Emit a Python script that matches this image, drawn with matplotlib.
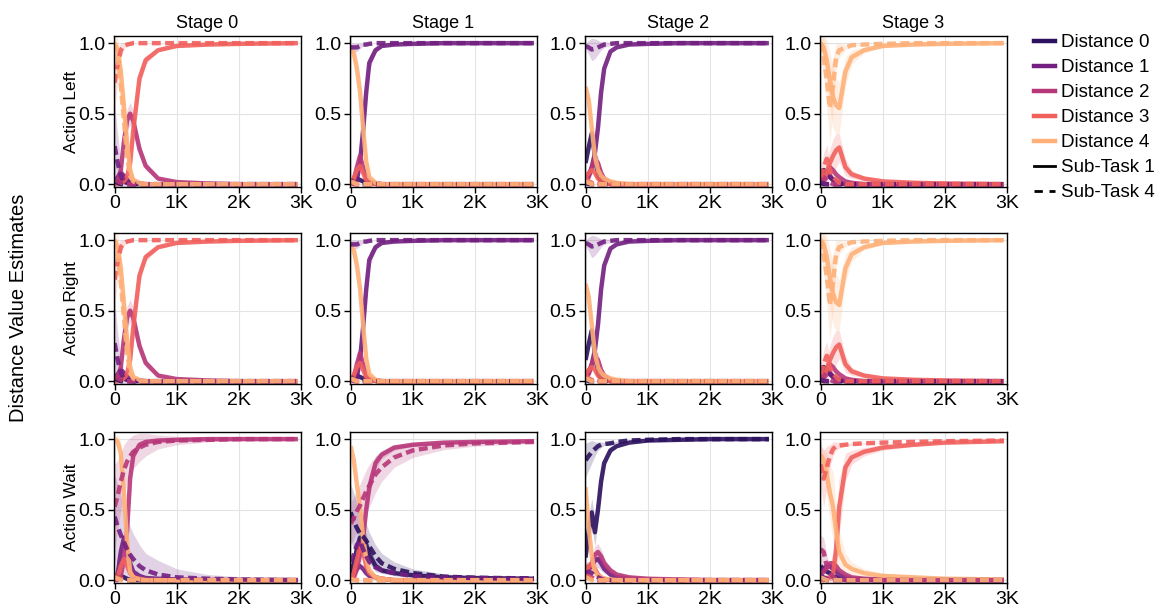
import numpy as np
import matplotlib.pyplot as plt
import seaborn as sns

plt.rcParams['font.family'] = ['Liberation Sans', 'DejaVu Sans']

# training steps where the estimates were sampled
steps = [0, 50, 100, 150, 200, 250, 300, 400, 500, 700, 1000, 1500, 2000, 2950]

stages = ['Stage 0', 'Stage 1', 'Stage 2', 'Stage 3']
actions = ['Action Left', 'Action Right', 'Action Wait']
distance_names = ['Distance 0', 'Distance 1', 'Distance 2', 'Distance 3', 'Distance 4']
subtask_names = ['Sub-Task 1', 'Sub-Task 4']

# mean estimates, keyed by (distance, sub-task)
left_stage0 = {
    (0, 1): [0.01, 0.02, 0.03, 0.02, 0.01, 0.01, 0.0, 0.0, 0.0, 0.0, 0.0, 0.0, 0.0, 0.0],
    (1, 1): [0.02, 0.05, 0.08, 0.06, 0.03, 0.02, 0.01, 0.005, 0.0, 0.0, 0.0, 0.0, 0.0, 0.0],
    (2, 1): [0.0, 0.02, 0.1, 0.3, 0.45, 0.5, 0.45, 0.25, 0.13, 0.04, 0.015, 0.005, 0.0, 0.0],
    (3, 1): [0.0, 0.0, 0.01, 0.02, 0.05, 0.15, 0.38, 0.75, 0.88, 0.95, 0.98, 0.99, 0.995, 1.0],
    (4, 1): [1.0, 0.95, 0.8, 0.55, 0.3, 0.1, 0.03, 0.01, 0.0, 0.0, 0.0, 0.0, 0.0, 0.0],
    (0, 4): [0.02, 0.01, 0.0, 0.0, 0.0, 0.0, 0.0, 0.0, 0.0, 0.0, 0.0, 0.0, 0.0, 0.0],
    (1, 4): [0.27, 0.15, 0.06, 0.02, 0.01, 0.0, 0.0, 0.0, 0.0, 0.0, 0.0, 0.0, 0.0, 0.0],
    (2, 4): [0.03, 0.02, 0.01, 0.0, 0.0, 0.0, 0.0, 0.0, 0.0, 0.0, 0.0, 0.0, 0.0, 0.0],
    (3, 4): [0.72, 0.85, 0.95, 0.98, 0.99, 0.995, 1.0, 1.0, 1.0, 1.0, 1.0, 1.0, 1.0, 1.0],
    (4, 4): [1.0, 0.9, 0.7, 0.45, 0.2, 0.06, 0.02, 0.0, 0.0, 0.0, 0.0, 0.0, 0.0, 0.0],
}
left_stage1 = {
    (0, 1): [0.02, 0.03, 0.04, 0.03, 0.02, 0.015, 0.01, 0.005, 0.0, 0.0, 0.0, 0.0, 0.0, 0.0],
    (1, 1): [0.02, 0.02, 0.03, 0.15, 0.38, 0.65, 0.86, 0.95, 0.98, 0.99, 0.995, 1.0, 1.0, 1.0],
    (2, 1): [0.0, 0.03, 0.12, 0.2, 0.12, 0.05, 0.02, 0.005, 0.0, 0.0, 0.0, 0.0, 0.0, 0.0],
    (3, 1): [0.01, 0.04, 0.1, 0.13, 0.08, 0.03, 0.01, 0.0, 0.0, 0.0, 0.0, 0.0, 0.0, 0.0],
    (4, 1): [0.95, 0.93, 0.82, 0.66, 0.4, 0.16, 0.05, 0.01, 0.0, 0.0, 0.0, 0.0, 0.0, 0.0],
    (0, 4): [0.03, 0.01, 0.0, 0.0, 0.0, 0.0, 0.0, 0.0, 0.0, 0.0, 0.0, 0.0, 0.0, 0.0],
    (1, 4): [0.97, 0.97, 0.97, 0.98, 0.99, 0.99, 0.995, 1.0, 1.0, 1.0, 1.0, 1.0, 1.0, 1.0],
    (2, 4): [0.01, 0.0, 0.0, 0.0, 0.0, 0.0, 0.0, 0.0, 0.0, 0.0, 0.0, 0.0, 0.0, 0.0],
    (3, 4): [0.02, 0.01, 0.0, 0.0, 0.0, 0.0, 0.0, 0.0, 0.0, 0.0, 0.0, 0.0, 0.0, 0.0],
    (4, 4): [0.02, 0.01, 0.0, 0.0, 0.0, 0.0, 0.0, 0.0, 0.0, 0.0, 0.0, 0.0, 0.0, 0.0],
}
left_stage2 = {
    (0, 1): [0.15, 0.26, 0.36, 0.2, 0.06, 0.02, 0.01, 0.0, 0.0, 0.0, 0.0, 0.0, 0.0, 0.0],
    (1, 1): [0.04, 0.06, 0.12, 0.22, 0.4, 0.65, 0.82, 0.94, 0.97, 0.99, 0.995, 1.0, 1.0, 1.0],
    (2, 1): [0.03, 0.05, 0.12, 0.18, 0.15, 0.08, 0.04, 0.01, 0.0, 0.0, 0.0, 0.0, 0.0, 0.0],
    (3, 1): [0.05, 0.08, 0.1, 0.08, 0.04, 0.02, 0.01, 0.0, 0.0, 0.0, 0.0, 0.0, 0.0, 0.0],
    (4, 1): [0.69, 0.6, 0.4, 0.2, 0.1, 0.06, 0.04, 0.02, 0.01, 0.0, 0.0, 0.0, 0.0, 0.0],
    (0, 4): [0.01, 0.0, 0.0, 0.0, 0.0, 0.0, 0.0, 0.0, 0.0, 0.0, 0.0, 0.0, 0.0, 0.0],
    (1, 4): [0.98, 0.97, 0.955, 0.96, 0.97, 0.98, 0.99, 0.995, 1.0, 1.0, 1.0, 1.0, 1.0, 1.0],
    (2, 4): [0.02, 0.01, 0.0, 0.0, 0.0, 0.0, 0.0, 0.0, 0.0, 0.0, 0.0, 0.0, 0.0, 0.0],
    (3, 4): [0.04, 0.02, 0.01, 0.0, 0.0, 0.0, 0.0, 0.0, 0.0, 0.0, 0.0, 0.0, 0.0, 0.0],
    (4, 4): [0.02, 0.01, 0.0, 0.0, 0.0, 0.0, 0.0, 0.0, 0.0, 0.0, 0.0, 0.0, 0.0, 0.0],
}
left_stage3 = {
    (0, 1): [0.08, 0.1, 0.08, 0.05, 0.03, 0.02, 0.01, 0.0, 0.0, 0.0, 0.0, 0.0, 0.0, 0.0],
    (1, 1): [0.03, 0.06, 0.08, 0.06, 0.03, 0.02, 0.01, 0.0, 0.0, 0.0, 0.0, 0.0, 0.0, 0.0],
    (2, 1): [0.02, 0.05, 0.09, 0.12, 0.1, 0.07, 0.05, 0.02, 0.01, 0.0, 0.0, 0.0, 0.0, 0.0],
    (3, 1): [0.0, 0.03, 0.08, 0.15, 0.2, 0.24, 0.26, 0.12, 0.07, 0.04, 0.02, 0.01, 0.005, 0.0],
    (4, 1): [1.0, 0.97, 0.88, 0.74, 0.62, 0.56, 0.54, 0.8, 0.9, 0.95, 0.98, 0.99, 0.995, 1.0],
    (0, 4): [0.01, 0.0, 0.0, 0.0, 0.0, 0.0, 0.0, 0.0, 0.0, 0.0, 0.0, 0.0, 0.0, 0.0],
    (1, 4): [0.02, 0.01, 0.0, 0.0, 0.0, 0.0, 0.0, 0.0, 0.0, 0.0, 0.0, 0.0, 0.0, 0.0],
    (2, 4): [0.03, 0.05, 0.03, 0.01, 0.0, 0.0, 0.0, 0.0, 0.0, 0.0, 0.0, 0.0, 0.0, 0.0],
    (3, 4): [0.05, 0.12, 0.18, 0.1, 0.05, 0.03, 0.01, 0.0, 0.0, 0.0, 0.0, 0.0, 0.0, 0.0],
    (4, 4): [1.0, 0.9, 0.74, 0.54, 0.7, 0.9, 0.95, 0.97, 0.985, 0.99, 0.995, 1.0, 1.0, 1.0],
}
wait_stage0 = {
    (0, 1): [0.02, 0.03, 0.03, 0.02, 0.01, 0.0, 0.0, 0.0, 0.0, 0.0, 0.0, 0.0, 0.0, 0.0],
    (1, 1): [0.0, 0.05, 0.2, 0.3, 0.22, 0.12, 0.06, 0.03, 0.015, 0.01, 0.005, 0.0, 0.0, 0.0],
    (2, 1): [0.0, 0.0, 0.03, 0.15, 0.35, 0.72, 0.88, 0.96, 0.98, 0.99, 0.995, 1.0, 1.0, 1.0],
    (3, 1): [0.0, 0.02, 0.1, 0.15, 0.1, 0.05, 0.02, 0.01, 0.0, 0.0, 0.0, 0.0, 0.0, 0.0],
    (4, 1): [1.0, 0.98, 0.9, 0.62, 0.28, 0.06, 0.02, 0.005, 0.0, 0.0, 0.0, 0.0, 0.0, 0.0],
    (0, 4): [0.03, 0.02, 0.01, 0.0, 0.0, 0.0, 0.0, 0.0, 0.0, 0.0, 0.0, 0.0, 0.0, 0.0],
    (1, 4): [0.45, 0.38, 0.32, 0.27, 0.22, 0.18, 0.15, 0.1, 0.07, 0.04, 0.02, 0.01, 0.005, 0.0],
    (2, 4): [0.52, 0.6, 0.7, 0.78, 0.84, 0.88, 0.91, 0.94, 0.96, 0.98, 0.99, 0.995, 1.0, 1.0],
    (3, 4): [0.03, 0.02, 0.01, 0.0, 0.0, 0.0, 0.0, 0.0, 0.0, 0.0, 0.0, 0.0, 0.0, 0.0],
    (4, 4): [0.02, 0.01, 0.0, 0.0, 0.0, 0.0, 0.0, 0.0, 0.0, 0.0, 0.0, 0.0, 0.0, 0.0],
}
wait_stage1 = {
    (0, 1): [0.05, 0.12, 0.22, 0.3, 0.3, 0.25, 0.18, 0.1, 0.07, 0.05, 0.035, 0.02, 0.015, 0.01],
    (1, 1): [0.02, 0.04, 0.08, 0.1, 0.08, 0.05, 0.03, 0.02, 0.01, 0.0, 0.0, 0.0, 0.0, 0.0],
    (2, 1): [0.01, 0.02, 0.08, 0.18, 0.3, 0.5, 0.66, 0.83, 0.89, 0.94, 0.96, 0.975, 0.98, 0.985],
    (3, 1): [0.0, 0.05, 0.15, 0.25, 0.2, 0.1, 0.05, 0.02, 0.01, 0.0, 0.0, 0.0, 0.0, 0.0],
    (4, 1): [0.95, 0.85, 0.68, 0.52, 0.3, 0.16, 0.07, 0.02, 0.01, 0.0, 0.0, 0.0, 0.0, 0.0],
    (0, 4): [0.48, 0.42, 0.37, 0.33, 0.31, 0.28, 0.24, 0.17, 0.12, 0.08, 0.05, 0.025, 0.017, 0.012],
    (1, 4): [0.13, 0.18, 0.25, 0.28, 0.22, 0.17, 0.13, 0.09, 0.07, 0.05, 0.03, 0.02, 0.015, 0.01],
    (2, 4): [0.4, 0.44, 0.49, 0.53, 0.58, 0.63, 0.67, 0.75, 0.8, 0.87, 0.92, 0.955, 0.97, 0.98],
    (3, 4): [0.02, 0.01, 0.0, 0.0, 0.0, 0.0, 0.0, 0.0, 0.0, 0.0, 0.0, 0.0, 0.0, 0.0],
    (4, 4): [0.01, 0.0, 0.0, 0.0, 0.0, 0.0, 0.0, 0.0, 0.0, 0.0, 0.0, 0.0, 0.0, 0.0],
}
wait_stage2 = {
    (0, 1): [0.16, 0.35, 0.48, 0.34, 0.5, 0.7, 0.83, 0.92, 0.95, 0.975, 0.99, 0.995, 1.0, 1.0],
    (1, 1): [0.1, 0.08, 0.1, 0.14, 0.15, 0.12, 0.08, 0.04, 0.02, 0.01, 0.005, 0.0, 0.0, 0.0],
    (2, 1): [0.05, 0.08, 0.12, 0.18, 0.2, 0.17, 0.12, 0.07, 0.04, 0.02, 0.01, 0.005, 0.0, 0.0],
    (3, 1): [0.05, 0.1, 0.12, 0.08, 0.04, 0.02, 0.01, 0.0, 0.0, 0.0, 0.0, 0.0, 0.0, 0.0],
    (4, 1): [0.66, 0.38, 0.17, 0.06, 0.03, 0.02, 0.01, 0.005, 0.0, 0.0, 0.0, 0.0, 0.0, 0.0],
    (0, 4): [0.85, 0.88, 0.91, 0.93, 0.95, 0.96, 0.965, 0.97, 0.98, 0.99, 0.995, 1.0, 1.0, 1.0],
    (1, 4): [0.05, 0.06, 0.05, 0.03, 0.02, 0.01, 0.0, 0.0, 0.0, 0.0, 0.0, 0.0, 0.0, 0.0],
    (2, 4): [0.02, 0.03, 0.02, 0.01, 0.0, 0.0, 0.0, 0.0, 0.0, 0.0, 0.0, 0.0, 0.0, 0.0],
    (3, 4): [0.03, 0.02, 0.01, 0.0, 0.0, 0.0, 0.0, 0.0, 0.0, 0.0, 0.0, 0.0, 0.0, 0.0],
    (4, 4): [0.02, 0.01, 0.0, 0.0, 0.0, 0.0, 0.0, 0.0, 0.0, 0.0, 0.0, 0.0, 0.0, 0.0],
}
wait_stage3 = {
    (0, 1): [0.1, 0.08, 0.06, 0.05, 0.03, 0.02, 0.01, 0.0, 0.0, 0.0, 0.0, 0.0, 0.0, 0.0],
    (1, 1): [0.05, 0.08, 0.1, 0.1, 0.08, 0.06, 0.04, 0.02, 0.01, 0.005, 0.0, 0.0, 0.0, 0.0],
    (2, 1): [0.03, 0.06, 0.09, 0.12, 0.12, 0.1, 0.07, 0.04, 0.02, 0.01, 0.005, 0.0, 0.0, 0.0],
    (3, 1): [0.0, 0.0, 0.01, 0.02, 0.04, 0.22, 0.52, 0.8, 0.87, 0.91, 0.94, 0.96, 0.975, 0.985],
    (4, 1): [0.89, 0.85, 0.75, 0.62, 0.52, 0.35, 0.2, 0.11, 0.08, 0.05, 0.03, 0.02, 0.01, 0.005],
    (0, 4): [0.02, 0.01, 0.0, 0.0, 0.0, 0.0, 0.0, 0.0, 0.0, 0.0, 0.0, 0.0, 0.0, 0.0],
    (1, 4): [0.03, 0.02, 0.01, 0.0, 0.0, 0.0, 0.0, 0.0, 0.0, 0.0, 0.0, 0.0, 0.0, 0.0],
    (2, 4): [0.22, 0.2, 0.1, 0.05, 0.02, 0.01, 0.0, 0.0, 0.0, 0.0, 0.0, 0.0, 0.0, 0.0],
    (3, 4): [0.82, 0.72, 0.8, 0.88, 0.93, 0.95, 0.955, 0.96, 0.965, 0.97, 0.975, 0.98, 0.985, 0.99],
    (4, 4): [0.02, 0.01, 0.0, 0.0, 0.0, 0.0, 0.0, 0.0, 0.0, 0.0, 0.0, 0.0, 0.0, 0.0],
}

# half-width of the shaded spread across seeds
left_stage0_spread = {
    (1, 4): [0.3, 0.2, 0.1, 0.05, 0.03, 0.02, 0.01, 0.0, 0.0, 0.0, 0.0, 0.0, 0.0, 0.0],
    (3, 4): [0.2, 0.12, 0.05, 0.02, 0.01, 0.01, 0.0, 0.0, 0.0, 0.0, 0.0, 0.0, 0.0, 0.0],
    (2, 1): [0.0, 0.02, 0.05, 0.08, 0.08, 0.08, 0.07, 0.05, 0.03, 0.01, 0.005, 0.0, 0.0, 0.0],
    (3, 1): [0.0, 0.0, 0.01, 0.02, 0.05, 0.08, 0.1, 0.06, 0.03, 0.01, 0.005, 0.0, 0.0, 0.0],
    (4, 1): [0.02, 0.05, 0.1, 0.12, 0.1, 0.06, 0.02, 0.01, 0.0, 0.0, 0.0, 0.0, 0.0, 0.0],
    (4, 4): [0.05, 0.15, 0.15, 0.1, 0.05, 0.02, 0.0, 0.0, 0.0, 0.0, 0.0, 0.0, 0.0, 0.0],
}
left_stage1_spread = {
    (1, 4): [0.03, 0.03, 0.03, 0.02, 0.01, 0.01, 0.0, 0.0, 0.0, 0.0, 0.0, 0.0, 0.0, 0.0],
    (4, 1): [0.03, 0.05, 0.08, 0.1, 0.1, 0.06, 0.03, 0.01, 0.0, 0.0, 0.0, 0.0, 0.0, 0.0],
    (1, 1): [0.0, 0.01, 0.02, 0.05, 0.08, 0.08, 0.05, 0.02, 0.01, 0.0, 0.0, 0.0, 0.0, 0.0],
}
left_stage2_spread = {
    (1, 4): [0.02, 0.05, 0.08, 0.07, 0.05, 0.03, 0.02, 0.01, 0.0, 0.0, 0.0, 0.0, 0.0, 0.0],
    (2, 1): [0.01, 0.03, 0.05, 0.06, 0.05, 0.03, 0.02, 0.01, 0.0, 0.0, 0.0, 0.0, 0.0, 0.0],
    (4, 1): [0.03, 0.05, 0.06, 0.05, 0.03, 0.02, 0.01, 0.0, 0.0, 0.0, 0.0, 0.0, 0.0, 0.0],
}
left_stage3_spread = {
    (4, 1): [0.02, 0.08, 0.15, 0.2, 0.22, 0.2, 0.18, 0.1, 0.05, 0.02, 0.01, 0.005, 0.0, 0.0],
    (4, 4): [0.05, 0.15, 0.2, 0.25, 0.2, 0.1, 0.05, 0.02, 0.01, 0.0, 0.0, 0.0, 0.0, 0.0],
    (3, 1): [0.02, 0.05, 0.08, 0.1, 0.12, 0.12, 0.1, 0.06, 0.03, 0.015, 0.01, 0.005, 0.0, 0.0],
    (3, 4): [0.05, 0.1, 0.1, 0.06, 0.03, 0.01, 0.0, 0.0, 0.0, 0.0, 0.0, 0.0, 0.0, 0.0],
}
wait_stage0_spread = {
    (1, 4): [0.3, 0.3, 0.28, 0.25, 0.22, 0.2, 0.18, 0.15, 0.12, 0.1, 0.06, 0.03, 0.02, 0.01],
    (2, 4): [0.3, 0.25, 0.2, 0.18, 0.15, 0.13, 0.12, 0.1, 0.08, 0.05, 0.03, 0.015, 0.01, 0.005],
    (4, 1): [0.02, 0.05, 0.08, 0.1, 0.1, 0.05, 0.02, 0.0, 0.0, 0.0, 0.0, 0.0, 0.0, 0.0],
}
wait_stage1_spread = {
    (2, 4): [0.15, 0.15, 0.15, 0.15, 0.15, 0.15, 0.15, 0.13, 0.1, 0.07, 0.05, 0.03, 0.02, 0.01],
    (0, 4): [0.2, 0.2, 0.18, 0.15, 0.13, 0.12, 0.1, 0.08, 0.07, 0.05, 0.03, 0.02, 0.01, 0.005],
    (2, 1): [0.02, 0.03, 0.05, 0.08, 0.1, 0.1, 0.08, 0.05, 0.03, 0.02, 0.01, 0.005, 0.0, 0.0],
    (0, 1): [0.02, 0.05, 0.08, 0.1, 0.1, 0.08, 0.06, 0.04, 0.02, 0.01, 0.005, 0.0, 0.0, 0.0],
}
wait_stage2_spread = {
    (0, 4): [0.12, 0.1, 0.08, 0.05, 0.03, 0.02, 0.01, 0.01, 0.005, 0.0, 0.0, 0.0, 0.0, 0.0],
    (0, 1): [0.05, 0.1, 0.1, 0.1, 0.08, 0.05, 0.03, 0.02, 0.01, 0.0, 0.0, 0.0, 0.0, 0.0],
    (1, 1): [0.03, 0.05, 0.05, 0.06, 0.06, 0.05, 0.03, 0.02, 0.01, 0.0, 0.0, 0.0, 0.0, 0.0],
    (2, 1): [0.03, 0.04, 0.05, 0.06, 0.06, 0.05, 0.04, 0.02, 0.01, 0.0, 0.0, 0.0, 0.0, 0.0],
}
wait_stage3_spread = {
    (3, 4): [0.15, 0.2, 0.15, 0.08, 0.05, 0.03, 0.02, 0.01, 0.01, 0.005, 0.0, 0.0, 0.0, 0.0],
    (4, 1): [0.05, 0.08, 0.15, 0.2, 0.25, 0.2, 0.15, 0.08, 0.05, 0.03, 0.02, 0.01, 0.0, 0.0],
    (3, 1): [0.0, 0.02, 0.05, 0.1, 0.15, 0.2, 0.2, 0.1, 0.05, 0.03, 0.02, 0.01, 0.0, 0.0],
    (2, 4): [0.1, 0.1, 0.08, 0.05, 0.02, 0.0, 0.0, 0.0, 0.0, 0.0, 0.0, 0.0, 0.0, 0.0],
}

# left and right actions behave the same way
panels = [
    [left_stage0, left_stage1, left_stage2, left_stage3],
    [left_stage0, left_stage1, left_stage2, left_stage3],
    [wait_stage0, wait_stage1, wait_stage2, wait_stage3],
]
spreads = [
    [left_stage0_spread, left_stage1_spread, left_stage2_spread, left_stage3_spread],
    [left_stage0_spread, left_stage1_spread, left_stage2_spread, left_stage3_spread],
    [wait_stage0_spread, wait_stage1_spread, wait_stage2_spread, wait_stage3_spread],
]

colors = sns.color_palette('magma', 5)
dash = (0, (2, 1))

fig = plt.figure(figsize=(11.56, 6.16), dpi=100)
col_left = [0.0986, 0.3028, 0.506, 0.7093]
row_bottom = [0.6964, 0.3766, 0.0536]
width, height = 0.1618, 0.245

x = np.array(steps)
for r, action in enumerate(actions):
    for c, stage in enumerate(stages):
        ax = fig.add_axes([col_left[c], row_bottom[r], width, height])
        means = panels[r][c]
        spread = spreads[r][c]
        for st in (1, 4):
            for d in range(5):
                y = np.array(means[(d, st)])
                if (d, st) in spread:
                    s = np.array(spread[(d, st)])
                    ax.fill_between(x, y - s, y + s, color=colors[d], alpha=0.2, lw=0)
                ax.plot(x, y, color=colors[d], lw=3.2, alpha=0.9,
                        ls='-' if st == 1 else dash, solid_capstyle='butt')

        ax.set_xlim(-10, 3000)
        ax.set_ylim(-0.02, 1.05)
        ax.set_xticks([0, 1000, 2000, 3000])
        ax.set_xticklabels(['0', '1K', '2K', '3K'])
        ax.set_yticks([0.0, 0.5, 1.0])
        ax.set_yticklabels(['0.0', '0.5', '1.0'])
        ax.tick_params(direction='out', length=4, width=1, labelsize=14, pad=2)
        ax.grid(True, color='#e3e3e3', lw=0.8)
        ax.set_axisbelow(True)
        for sp in ax.spines.values():
            sp.set_linewidth(1.0)
            sp.set_color('black')
        if r == 0:
            ax.set_title(stage, fontsize=13, pad=6)
        if c == 0:
            ax.set_ylabel(action, fontsize=12.5, labelpad=0)

fig.text(0.016, 0.5, 'Distance Value Estimates', rotation=90, va='center', ha='center', fontsize=14.5)

handles = [plt.Line2D([], [], color=colors[d], lw=3.2) for d in range(5)]
handles += [plt.Line2D([], [], color='black', lw=2, ls='-'),
            plt.Line2D([], [], color='black', lw=2, ls=(0, (3, 2.4)))]
fig.legend(handles, distance_names + subtask_names, loc='upper left',
           bbox_to_anchor=(0.888, 0.957), frameon=False, fontsize=13.5,
           handlelength=1.1, handletextpad=0.35, labelspacing=0.42, borderaxespad=0)

fig.savefig('out.png', dpi=100)
